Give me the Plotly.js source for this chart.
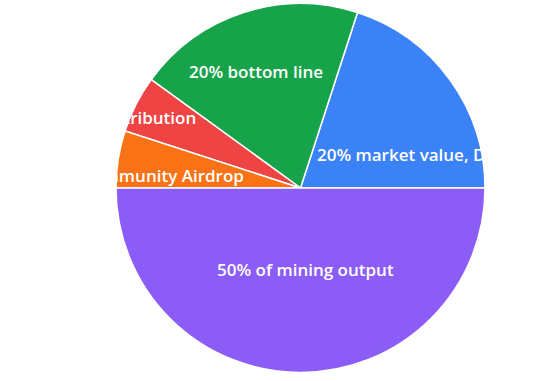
<!DOCTYPE html>
<html><head><meta charset="utf-8">
<script src="https://cdn.plot.ly/plotly-3.0.1.min.js"></script>
<style>html,body{margin:0;padding:0;background:#fff;}#chart{width:556px;height:381px;}</style>
</head><body><div id="chart"></div>
<script>
// data
const labels = ["20% market value, DAO", "20% bottom line", "5% distribution", "5% community Airdrop", "50% of mining output"];
const values = [20, 20, 5, 5, 50];
const colors = ["#3b82f6", "#16a34a", "#ef4444", "#f97316", "#8b5cf6"];

// label placement (layout only): pixel x, pixel y, anchor
const W = 556, H = 381;
const labelPos = [
  {px: 315, py: 154, anchor: "left"},
  {px: 256, py: 71, anchor: "center"},
  {px: 198, py: 117, anchor: "right"},
  {px: 246, py: 175.5, anchor: "right"},
  {px: 305, py: 269, anchor: "center"}
];

const trace = {
  type: "pie",
  labels: labels,
  values: values,
  textposition: "none",
  sort: false,
  direction: "counterclockwise",
  rotation: 18,
  marker: {colors: colors, line: {color: "#ffffff", width: 1.5}},
  hoverinfo: "label+percent",
  domain: {x: [0.2086, 0.8723], y: [0.0223, 0.9908]},
  showlegend: false
};

const annotations = labels.map((t, i) => ({
  text: t,
  xref: "paper", yref: "paper",
  x: labelPos[i].px / W,
  y: 1 - labelPos[i].py / H,
  xanchor: labelPos[i].anchor,
  yanchor: "middle",
  showarrow: false,
  font: {family: "Open Sans", size: 17, color: "#ffffff", weight: 600}
}));

const layout = {
  width: W, height: H,
  margin: {l: 0, r: 0, t: 0, b: 0},
  paper_bgcolor: "#ffffff",
  showlegend: false,
  annotations: annotations
};
Plotly.newPlot("chart", [trace], layout, {displayModeBar: false, staticPlot: true});
</script></body></html>
